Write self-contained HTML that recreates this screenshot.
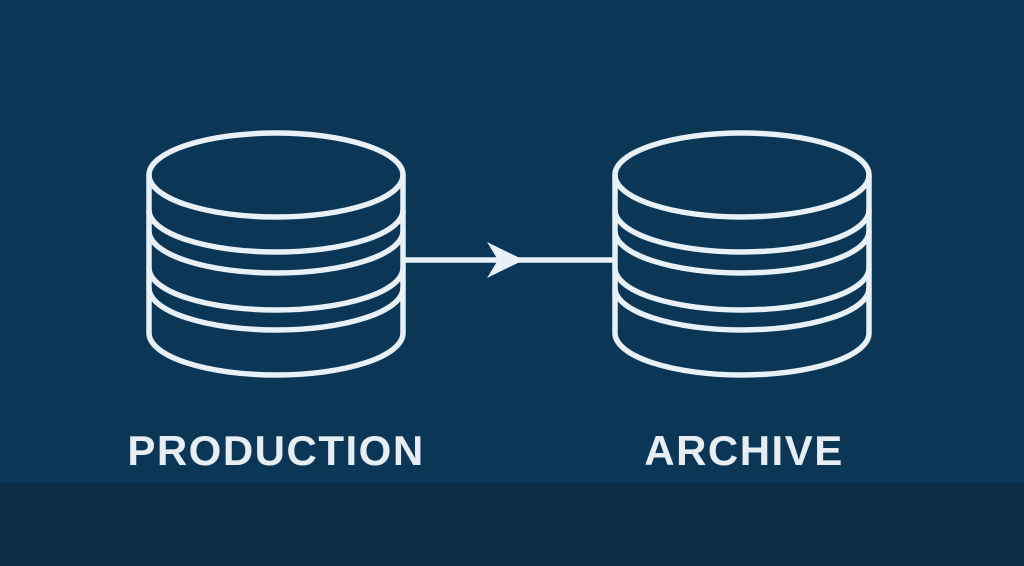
<!DOCTYPE html>
<html><head><style>
html,body{margin:0;padding:0;width:1024px;height:566px;overflow:hidden;background:#0c3656;}
.band{position:absolute;left:0;top:483px;width:1024px;height:83px;background:#0a2c47;}
.lbl{position:absolute;top:427px;font-family:"Liberation Sans",sans-serif;font-weight:bold;font-size:42px;color:#e6eef4;letter-spacing:1.5px;text-align:center;width:400px;}
</style></head><body>
<div class="band"></div>
<svg width="1024" height="566" style="position:absolute;left:0;top:0" fill="none" stroke="#e8f1f7" stroke-width="5.5">
<defs>
<g id="db">
<ellipse cx="0" cy="175" rx="127" ry="42"/>
<path d="M-127 175 V333 M127 175 V333"/>
<path d="M-127 210 A127 42 0 0 0 127 210"/>
<path d="M-127 231 A127 42 0 0 0 127 231"/>
<path d="M-127 268 A127 42 0 0 0 127 268"/>
<path d="M-127 288 A127 42 0 0 0 127 288"/>
<path d="M-127 333 A127 42 0 0 0 127 333"/>
</g>
</defs>
<use href="#db" x="276"/>
<use href="#db" x="742"/>
<line x1="403" y1="260" x2="616" y2="260"/>
<polygon points="487,242 524,260 487,278 498,260" fill="#e8f1f7" stroke="none"/>
</svg>
<div class="lbl" style="left:76px">PRODUCTION</div>
<div class="lbl" style="left:544px">ARCHIVE</div>
</body></html>
